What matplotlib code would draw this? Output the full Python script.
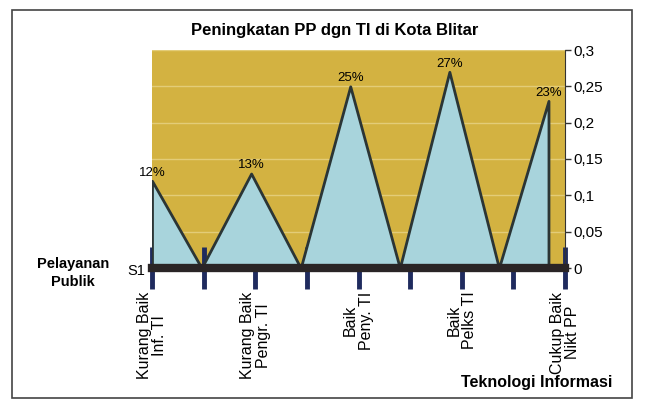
import matplotlib.pyplot as plt
from matplotlib.patches import Rectangle

plt.rcParams['font.family'] = ['Liberation Sans', 'DejaVu Sans']

# data
categories = ["Kurang Baik\nInf. TI", "", "Kurang Baik\nPengr. TI", "", "Baik\nPeny. TI",
              "", "Baik\nPelks TI", "", "Cukup Baik\nNikt PP"]
values = [0.12, 0.0, 0.13, 0.0, 0.25, 0.0, 0.27, 0.0, 0.23]
point_labels = ["12%", "", "13%", "", "25%", "", "27%", "", "23%"]
yticks = [0, 0.05, 0.1, 0.15, 0.2, 0.25, 0.3]
ytick_labels = ["0", "0,05", "0,1", "0,15", "0,2", "0,25", "0,3"]

fig = plt.figure(figsize=(6.46, 4.03), dpi=100)
ax = fig.add_axes([152 / 646, 1 - 268 / 403, (565 - 152) / 646, (268 - 50) / 403])

gold = "#D3B241"
ax.set_facecolor(gold)
x = list(range(len(values)))
# the series sits on the back of the 3D floor, so it is drawn slightly narrower
depth = 0.96
xa = [i * depth for i in x]
ax.fill_between(xa, values, 0, color="#A8D4DC", edgecolor="#2b3535", linewidth=2, zorder=3)
for xi, v, lab in zip(xa, values, point_labels):
    if lab:
        ax.text(xi, v + 0.003, lab, ha="center", va="bottom", fontsize=9.5, zorder=5)

ax.set_xlim(0, 8)
ax.set_ylim(0, 0.3)
ax.set_yticks(yticks)
ax.set_yticklabels(ytick_labels, fontsize=11)
ax.yaxis.tick_right()
ax.grid(axis="y", color="#E3CC78", linewidth=1, zorder=1)
ax.set_axisbelow(True)

ax.set_xticks(x)
ax.set_xticklabels(categories, rotation=90, fontsize=11.5, va="top", ha="center",
                   linespacing=1.05)
ax.tick_params(axis="x", direction="inout", length=30, width=3.5, color="#1f2b5e", pad=2)
ax.tick_params(axis="y", direction="out", length=4, width=1, color="#333333", pad=2)

for s in ["top", "left"]:
    ax.spines[s].set_visible(False)
ax.spines["right"].set_color("#333333")
ax.spines["bottom"].set_color("#2a2526")
ax.spines["bottom"].set_linewidth(6)
ax.spines["bottom"].set_zorder(6)

fig.text(335 / 646, 1 - 30 / 403, "Peningkatan PP dgn TI di Kota Blitar",
         ha="center", va="center", fontsize=12, fontweight="bold")
fig.text(73 / 646, 1 - 273 / 403, "Pelayanan\nPublik", ha="center", va="center",
         fontsize=10.5, fontweight="bold", linespacing=1.3)
fig.text(145 / 646, 1 - 271 / 403, "S1", ha="right", va="center", fontsize=10.5)
fig.text(537 / 646, 1 - 383 / 403, "Teknologi Informasi", ha="center", va="center",
         fontsize=11.5, fontweight="bold")

fig.patches.append(Rectangle((12 / 646, 1 - 398 / 403), 620 / 646, 388 / 403,
                             transform=fig.transFigure, fill=False,
                             edgecolor="#444444", linewidth=1.2))

fig.savefig("out.png", dpi=100)
